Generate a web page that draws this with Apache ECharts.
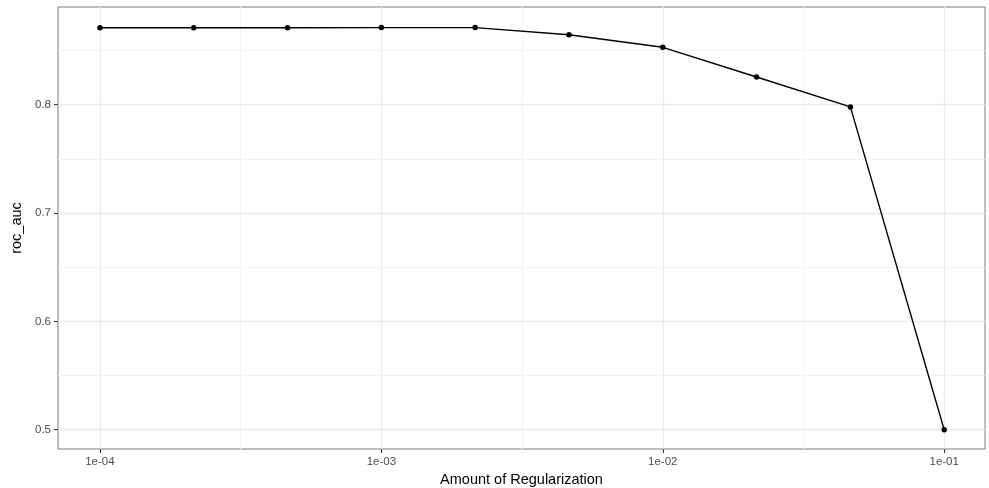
<!DOCTYPE html>
<html>
<head>
<meta charset="utf-8">
<script src="https://cdn.jsdelivr.net/npm/echarts@6/dist/echarts.min.js"></script>
<style>
  html, body { margin: 0; padding: 0; background: #fff; }
  #chart { width: 989px; height: 488px; }
</style>
</head>
<body>
<div id="chart"></div>
<script>
// penalty grid (log spaced) and mean roc_auc
const penalty = [1e-4, 2.154e-4, 4.642e-4, 1e-3, 2.154e-3, 4.642e-3, 1e-2, 2.154e-2, 4.642e-2, 1e-1];
const rocAuc = [0.871, 0.871, 0.871, 0.8712, 0.8712, 0.8646, 0.853, 0.8256, 0.798, 0.500];

const xTickValues = [1e-4, 1e-3, 1e-2, 1e-1];
const xTickLabels = ['1e-04', '1e-03', '1e-02', '1e-01'];
const xMinorValues = [3.162e-4, 3.162e-3, 3.162e-2];
const yTickValues = [0.5, 0.6, 0.7, 0.8];
const yMinorValues = [0.55, 0.65, 0.75, 0.85];

const lg = v => Math.log10(v);
const labelByLog = {};
xTickValues.forEach((v, i) => { labelByLog[lg(v).toFixed(3)] = xTickLabels[i]; });

const gridColor = '#ebebeb';
const minorColor = '#f3f3f3';

let chart = echarts.init(document.getElementById('chart'));
chart.setOption({
    animation: false,
    grid: {
        left: 58, right: 4, top: 7, bottom: 39,
        outerBoundsMode: 'none',
        containLabel: false,
        show: true,
        borderColor: '#7a7a7a',
        borderWidth: 1,
        backgroundColor: '#fff'
    },
    xAxis: {
        type: 'value',
        min: -4.149,
        max: -0.855,
        name: 'Amount of Regularization',
        nameLocation: 'middle',
        nameGap: 17,
        nameTextStyle: { color: '#000', fontSize: 14.5, fontFamily: 'Liberation Sans' },
        axisLine: { show: false },
        axisTick: {
            show: true, length: 4, lineStyle: { color: '#333' },
            customValues: xTickValues.map(lg)
        },
        axisLabel: {
            color: '#4d4d4d', fontSize: 11.5, fontFamily: 'Liberation Sans', margin: 7,
            customValues: xTickValues.map(lg),
            formatter: v => labelByLog[v.toFixed(3)] || ''
        },
        splitLine: { show: false }
    },
    yAxis: {
        type: 'value',
        min: 0.4822,
        max: 0.8902,
        name: 'roc_auc',
        nameLocation: 'middle',
        nameGap: 32,
        nameRotate: 90,
        nameTextStyle: { color: '#000', fontSize: 14.5, fontFamily: 'Liberation Sans' },
        axisLine: { show: false },
        axisTick: {
            show: true, length: 4, lineStyle: { color: '#333' },
            customValues: yTickValues
        },
        axisLabel: {
            color: '#4d4d4d', fontSize: 11.5, fontFamily: 'Liberation Sans', margin: 7,
            customValues: yTickValues,
            formatter: v => v.toFixed(1)
        },
        splitLine: { show: false }
    },
    series: [
        {
            // background grid lines
            type: 'line',
            data: [],
            z: 1,
            silent: true,
            markLine: {
                silent: true,
                symbol: 'none',
                label: { show: false },
                animation: false,
                data: [].concat(
                    xMinorValues.map(v => ({ xAxis: lg(v), lineStyle: { color: minorColor, width: 1, type: 'solid' } })),
                    yMinorValues.map(v => ({ yAxis: v, lineStyle: { color: minorColor, width: 1, type: 'solid' } })),
                    xTickValues.map(v => ({ xAxis: lg(v), lineStyle: { color: gridColor, width: 1.3, type: 'solid' } })),
                    yTickValues.map(v => ({ yAxis: v, lineStyle: { color: gridColor, width: 1.3, type: 'solid' } }))
                )
            }
        },
        {
            name: 'roc_auc',
            type: 'line',
            zlevel: 1,
            z: 3,
            data: penalty.map((p, i) => [lg(p), rocAuc[i]]),
            symbol: 'circle',
            symbolSize: 5.5,
            showAllSymbol: true,
            lineStyle: { color: '#000', width: 1.4 },
            itemStyle: { color: '#000' }
        }
    ]
});
</script>
</body>
</html>
